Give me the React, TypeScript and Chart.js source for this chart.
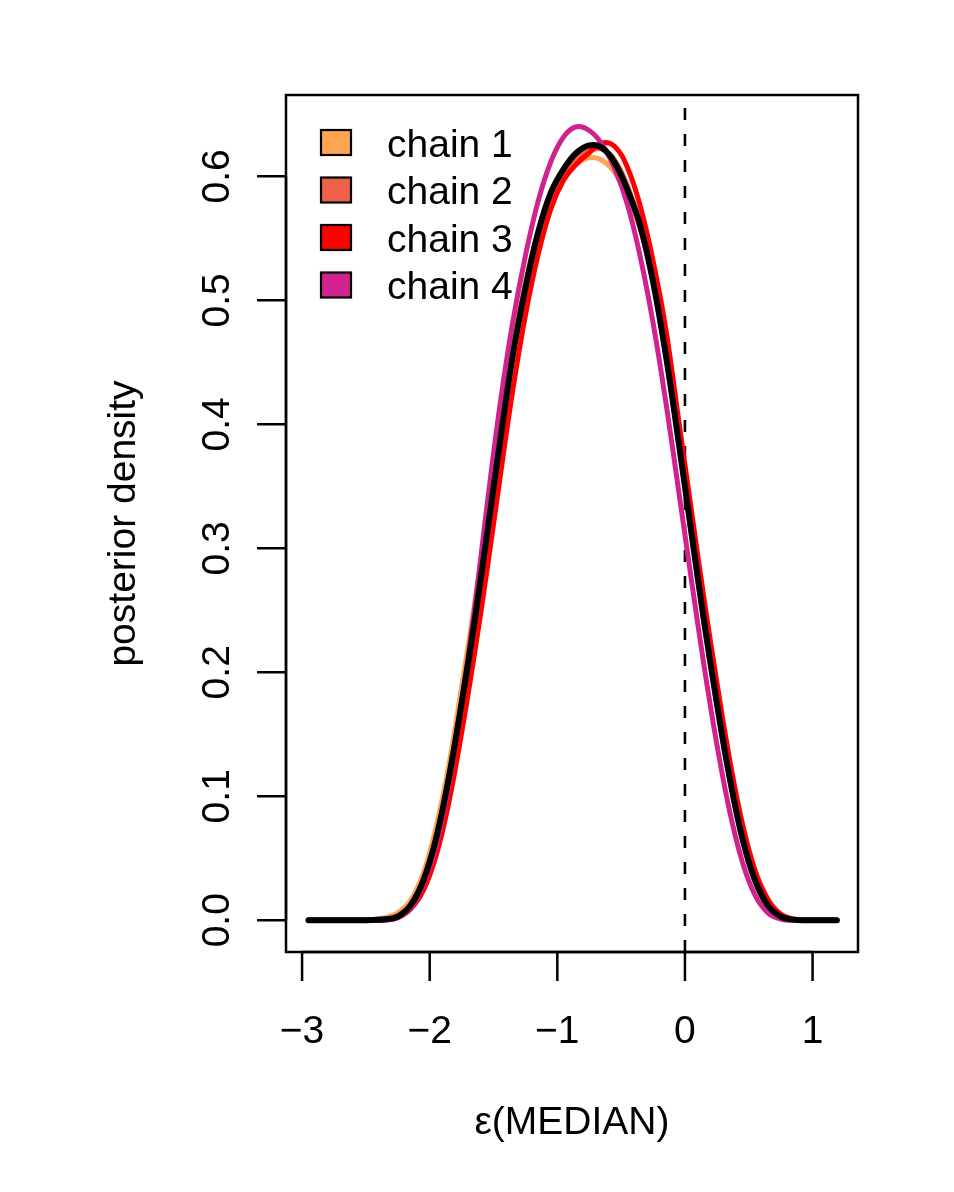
import React, { useEffect, useRef } from "react";
import { Chart, registerables } from "chart.js";

Chart.register(...registerables);

// ---- data ----
const xGrid = [
  -2.95, -2.85, -2.75, -2.65, -2.55, -2.45, -2.35, -2.25, -2.15, -2.05,
  -1.95, -1.85, -1.75, -1.65, -1.55, -1.45, -1.35, -1.25, -1.15, -1.05,
  -0.95, -0.85, -0.75, -0.65, -0.55, -0.45, -0.35, -0.25, -0.15, -0.05,
  0.05, 0.15, 0.25, 0.35, 0.45, 0.55, 0.65, 0.75, 0.85, 0.95,
  1.05, 1.15, 1.19,
];

const chain1 = [
  0, 0, 0, 0, 0, 0.0005, 0.002, 0.006, 0.016, 0.038,
  0.075, 0.125, 0.188, 0.254, 0.326, 0.398, 0.462, 0.515, 0.555, 0.583,
  0.6, 0.61, 0.615, 0.613, 0.603, 0.584, 0.557, 0.515, 0.458, 0.386,
  0.311, 0.239, 0.174, 0.114, 0.065, 0.031, 0.012, 0.003, 0.0005, 0,
  0, 0, 0,
];

const chain2 = [
  0, 0, 0, 0, 0, 0.0003, 0.001, 0.004, 0.013, 0.033,
  0.067, 0.116, 0.176, 0.242, 0.313, 0.386, 0.455, 0.51, 0.553, 0.584,
  0.603, 0.615, 0.621, 0.622, 0.613, 0.592, 0.562, 0.518, 0.459, 0.389,
  0.315, 0.243, 0.177, 0.116, 0.067, 0.033, 0.013, 0.003, 0.0005, 0,
  0, 0, 0,
];

const chain3 = [
  0, 0, 0, 0, 0, 0, 0.0005, 0.002, 0.009, 0.024,
  0.052, 0.095, 0.151, 0.214, 0.283, 0.356, 0.427, 0.488, 0.537, 0.574,
  0.597, 0.61, 0.619, 0.627, 0.624, 0.607, 0.576, 0.532, 0.477, 0.404,
  0.331, 0.259, 0.192, 0.13, 0.078, 0.04, 0.017, 0.005, 0.001, 0.0002,
  0, 0, 0,
];

const chain4 = [
  0, 0, 0, 0, 0, 0, 0.0003, 0.002, 0.01, 0.029,
  0.06, 0.11, 0.176, 0.25, 0.335, 0.415, 0.482, 0.536, 0.58, 0.612,
  0.632, 0.64, 0.637, 0.626, 0.606, 0.577, 0.535, 0.482, 0.418, 0.347,
  0.275, 0.205, 0.142, 0.088, 0.047, 0.02, 0.006, 0.001, 0, 0,
  0, 0, 0,
];

const allChains = [
  0, 0, 0, 0, 0, 0.0003, 0.0008, 0.003, 0.012, 0.032,
  0.066, 0.115, 0.175, 0.24, 0.312, 0.385, 0.455, 0.51, 0.555, 0.587,
  0.606, 0.619, 0.625, 0.623, 0.611, 0.589, 0.56, 0.515, 0.456, 0.386,
  0.313, 0.241, 0.175, 0.115, 0.066, 0.032, 0.012, 0.003, 0.0005, 0,
  0, 0, 0,
];

const chainNames = ["chain 1", "chain 2", "chain 3", "chain 4"];
const chainColors = ["#FDA552", "#EE6049", "#FF0000", "#D1238F"];
const xTicks = [-3, -2, -1, 0, 1];
const xTickLabels = ["\u22123", "\u22122", "\u22121", "0", "1"];
const yTicks = [0, 0.1, 0.2, 0.3, 0.4, 0.5, 0.6];
const yTickLabels = ["0.0", "0.1", "0.2", "0.3", "0.4", "0.5", "0.6"];
const refLineX = [0, 0];
const xRange = [-3.126, 1.356];
const yRange = [-0.0256, 0.6656];
const xTitle = "\u03B5(MEDIAN)";
const yTitle = "posterior density";

const FONT = '39px "Liberation Sans", Arial, Helvetica, sans-serif';

const toPts = (ys: number[]) => xGrid.map((x, i) => ({ x, y: ys[i] }));

const rAxesPlugin = {
  id: "rAxes",
  afterDraw(chart: any) {
    const { ctx, chartArea } = chart;
    const xs = chart.scales.x;
    const ys = chart.scales.y;
    const { left, right, top, bottom } = chartArea;
    const tick = 29;
    ctx.save();
    ctx.strokeStyle = "#000";
    ctx.fillStyle = "#000";
    ctx.lineWidth = 2.5;
    ctx.lineCap = "butt";
    // box
    ctx.strokeRect(left, top, right - left, bottom - top);
    // x axis
    const x0 = xs.getPixelForValue(xTicks[0]);
    const x1 = xs.getPixelForValue(xTicks[xTicks.length - 1]);
    ctx.beginPath();
    ctx.moveTo(x0, bottom);
    ctx.lineTo(x1, bottom);
    xTicks.forEach((v) => {
      const px = xs.getPixelForValue(v);
      ctx.moveTo(px, bottom);
      ctx.lineTo(px, bottom + tick);
    });
    // y axis
    const y0 = ys.getPixelForValue(yTicks[0]);
    const y1 = ys.getPixelForValue(yTicks[yTicks.length - 1]);
    ctx.moveTo(left, y0);
    ctx.lineTo(left, y1);
    yTicks.forEach((v) => {
      const py = ys.getPixelForValue(v);
      ctx.moveTo(left, py);
      ctx.lineTo(left - tick, py);
    });
    ctx.stroke();

    ctx.font = FONT;
    ctx.textAlign = "center";
    ctx.textBaseline = "alphabetic";
    xTicks.forEach((v, i) => {
      ctx.fillText(xTickLabels[i], xs.getPixelForValue(v), bottom + 91);
    });
    yTicks.forEach((v, i) => {
      ctx.save();
      ctx.translate(left - 57, ys.getPixelForValue(v));
      ctx.rotate(-Math.PI / 2);
      ctx.fillText(yTickLabels[i], 0, 0);
      ctx.restore();
    });
    // titles
    ctx.fillText(xTitle, (left + right) / 2, bottom + 182);
    ctx.save();
    ctx.translate(left - 151, (top + bottom) / 2);
    ctx.rotate(-Math.PI / 2);
    ctx.fillText(yTitle, 0, 0);
    ctx.restore();

    // legend
    const lx = left + 35;
    const ly = top + 47.5;
    const rowH = 47.5;
    ctx.textAlign = "left";
    chainNames.forEach((name, i) => {
      const cy = ly + i * rowH;
      ctx.fillStyle = chainColors[i];
      ctx.fillRect(lx, cy - 12.5, 30, 25);
      ctx.lineWidth = 2.2;
      ctx.strokeStyle = "#000";
      ctx.strokeRect(lx, cy - 12.5, 30, 25);
      ctx.fillStyle = "#000";
      ctx.fillText(name, lx + 66, cy + 14);
    });
    ctx.restore();
  },
};

export default function App() {
  const ref = useRef<HTMLCanvasElement | null>(null);
  useEffect(() => {
    if (!ref.current) return;
    const common = {
      showLine: true,
      pointRadius: 0,
      fill: false,
      tension: 0.4,
      borderJoinStyle: "round" as const,
      borderCapStyle: "round" as const,
    };
    const chart = new Chart(ref.current, {
      type: "scatter",
      data: {
        datasets: [
          { ...common, label: "all chains", data: toPts(allChains), borderColor: "#000000", borderWidth: 6, order: 0 },
          { ...common, label: chainNames[3], data: toPts(chain4), borderColor: chainColors[3], borderWidth: 5, order: 1 },
          { ...common, label: chainNames[2], data: toPts(chain3), borderColor: chainColors[2], borderWidth: 5, order: 2 },
          { ...common, label: chainNames[1], data: toPts(chain2), borderColor: chainColors[1], borderWidth: 5, order: 3 },
          { ...common, label: chainNames[0], data: toPts(chain1), borderColor: chainColors[0], borderWidth: 5, order: 4 },
          {
            label: "ref",
            data: [
              { x: refLineX[0], y: yRange[0] },
              { x: refLineX[1], y: yRange[1] },
            ],
            showLine: true,
            pointRadius: 0,
            borderColor: "#000000",
            borderWidth: 2.6,
            borderDash: [12, 14],
            order: 5,
          },
        ],
      },
      options: {
        responsive: false,
        animation: false,
        layout: { padding: { left: 286, right: 96, top: 95, bottom: 240 } },
        scales: {
          x: { type: "linear", min: xRange[0], max: xRange[1], display: false },
          y: { type: "linear", min: yRange[0], max: yRange[1], display: false },
        },
        plugins: { legend: { display: false }, tooltip: { enabled: false } },
        events: [],
      },
      plugins: [rAxesPlugin],
    });
    return () => chart.destroy();
  }, []);
  return (
    <div style={{ position: "absolute", left: 0, top: 0, width: 954, height: 1192, background: "#fff" }}>
      <canvas ref={ref} width={954} height={1192} style={{ width: 954, height: 1192, display: "block" }} />
    </div>
  );
}
